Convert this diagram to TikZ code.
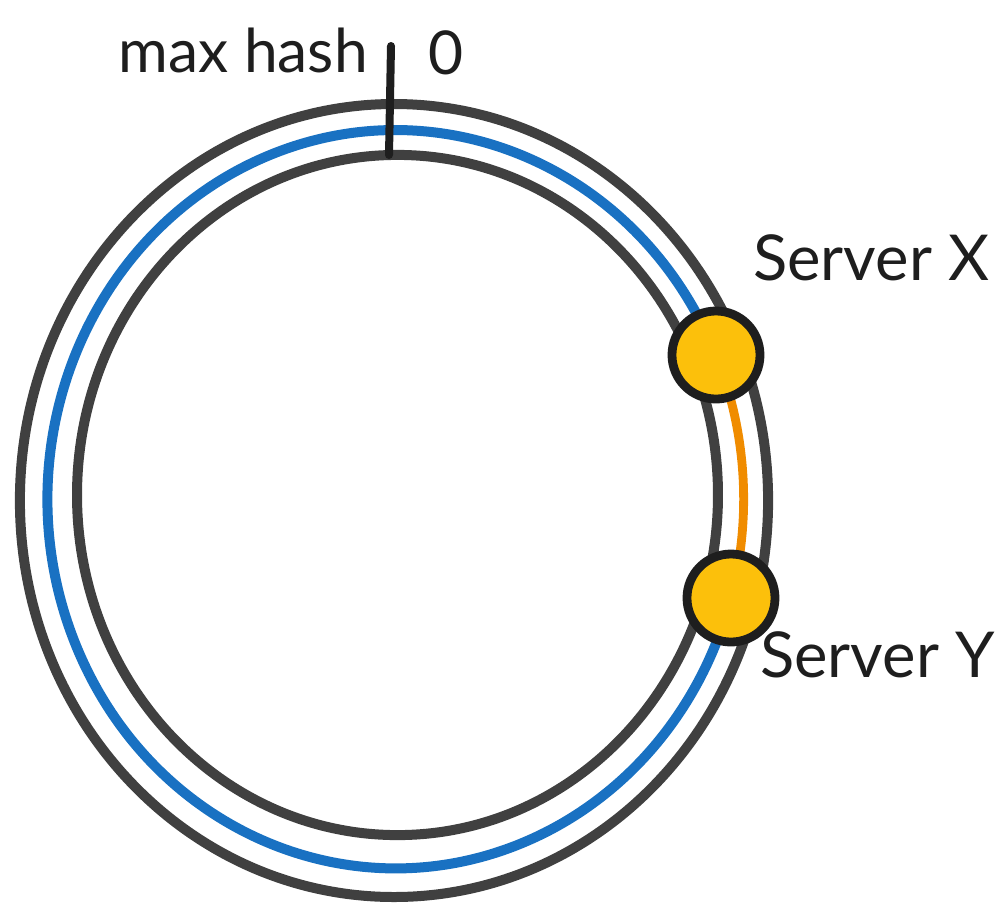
\documentclass[tikz,border=0pt]{standalone}
\usepackage{fontspec}
\setmainfont{Lato}
\usetikzlibrary{backgrounds}
\definecolor{ringgray}{HTML}{404040}
\definecolor{inkblack}{HTML}{1E1E1E}
\definecolor{hashblue}{HTML}{1971C2}
\definecolor{gaporange}{HTML}{F08C00}
\definecolor{serveryellow}{HTML}{FCC00B}

\begin{document}
\begin{tikzpicture}[
    x=0.025cm, y=0.025cm,
    every node/.style={inner sep=0pt, text=inkblack},
    ring/.style={draw=ringgray, line width=0.25cm},
    hashpath/.style={draw=hashblue, line width=0.25cm, line cap=round},
    gappath/.style={draw=gaporange, line width=0.22cm, line cap=round},
    server/.style={circle, draw=inkblack, fill=serveryellow, line width=0.22cm, minimum size=2.2cm},
    hashlabel/.style={font=\fontsize{43}{50}\selectfont},
    srvlabel/.style={font=\fontsize{45}{54}\selectfont},
    marker/.style={draw=inkblack, line width=0.2cm, line cap=round}
]
    \useasboundingbox (0,0) rectangle (1008,-917);
    \coordinate (outerC) at (394,-500.5);
    \coordinate (innerC) at (397.5,-495);
    \node[server] (srvX) at (716,-355) {};
    \node[server] (srvY) at (731,-598) {};
    \node[srvlabel, anchor=base west] (srvXlabel) at (753,-280) {Server X};
    \node[srvlabel, anchor=base west] (srvYlabel) at (760,-677) {Server Y};
    \coordinate (zeroTop) at (391,-46);
    \coordinate (zeroBot) at (389,-155);
    \node[hashlabel, anchor=base east] (maxlabel) at (368,-72) {max hash};
    \node[hashlabel, anchor=base west] (zerolabel) at (428,-74) {0};
    \begin{scope}[on background layer]
        \draw[ring] (outerC) ellipse [x radius=9.35cm, y radius=9.91cm];
        \draw[ring] (innerC) ellipse [x radius=8.01cm, y radius=8.5cm];
        \draw[hashpath] (srvX.center) arc [start angle=23, end angle=344.4, x radius=8.7cm, y radius=9.225cm];
        \draw[gappath] (srvX.center) arc [start angle=23, end angle=-15.6, x radius=8.7cm, y radius=9.225cm];
    \end{scope}
    \draw[marker] (zeroTop) -- (zeroBot);
\end{tikzpicture}
\end{document}
